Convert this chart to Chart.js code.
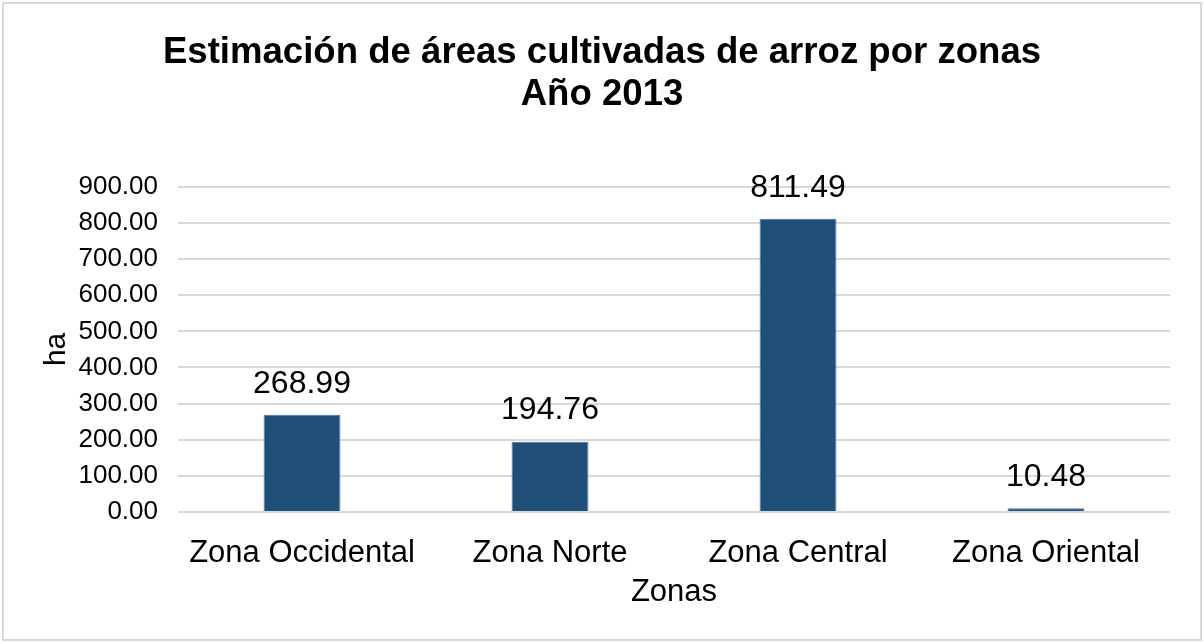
<!DOCTYPE html>
<html>
<head>
<meta charset="utf-8">
<script src="https://cdn.jsdelivr.net/npm/chart.js@4/dist/chart.umd.min.js"></script>
<style>
  html, body { margin: 0; padding: 0; background: #fff; }
  canvas { display: block; }
</style>
</head>
<body>
<canvas id="areasChart" width="1204" height="643"></canvas>
<script>
var zonas = ['Zona Occidental', 'Zona Norte', 'Zona Central', 'Zona Oriental'];
var hectareas = [268.99, 194.76, 811.49, 10.48];
var titulo = ['Estimación de áreas cultivadas de arroz por zonas', 'Año 2013'];
var ejeY = 'ha';
var ejeX = 'Zonas';

var fontFamily = '"Liberation Sans", Arial, sans-serif';

// gray frame around the whole chart
var framePlugin = {
    id: 'frame',
    beforeDraw: function(chart) {
        var ctx = chart.ctx;
        ctx.save();
        ctx.fillStyle = '#ffffff';
        ctx.fillRect(0, 0, chart.width, chart.height);
        ctx.strokeStyle = '#d9d9d9';
        ctx.lineWidth = 2;
        ctx.strokeRect(3, 3, chart.width - 6, chart.height - 6);
        ctx.restore();
    }
};

// value written above each bar
var valueLabels = {
    id: 'valueLabels',
    afterDatasetsDraw: function(chart) {
        var ctx = chart.ctx;
        var meta = chart.getDatasetMeta(0);
        ctx.save();
        ctx.font = '32px ' + fontFamily;
        ctx.fillStyle = '#000000';
        ctx.textAlign = 'center';
        ctx.textBaseline = 'middle';
        meta.data.forEach(function(bar, i) {
            ctx.fillText(hectareas[i].toFixed(2), bar.x, bar.y - 31);
        });
        ctx.restore();
    }
};

new Chart(document.getElementById('areasChart'), {
    type: 'bar',
    data: {
        labels: zonas,
        datasets: [{
            data: hectareas,
            backgroundColor: '#1f4e79',
            borderColor: '#4a7199',
            borderWidth: 1,
            barPercentage: 0.31,
            categoryPercentage: 1
        }]
    },
    options: {
        responsive: false,
        animation: false,
        layout: {
            padding: { left: 34, right: 34, top: 10, bottom: 20 }
        },
        plugins: {
            legend: { display: false },
            tooltip: { enabled: false },
            title: {
                display: true,
                text: titulo,
                color: '#000000',
                font: { family: fontFamily, size: 36.6, weight: 'bold', lineHeight: 1.145 },
                padding: { top: 22, bottom: 71 }
            }
        },
        scales: {
            x: {
                grid: { display: false },
                border: { display: false },
                ticks: {
                    color: '#000000',
                    font: { family: fontFamily, size: 31 },
                    padding: 15,
                    maxRotation: 0
                },
                title: {
                    display: true,
                    text: ejeX,
                    color: '#000000',
                    font: { family: fontFamily, size: 31 },
                    padding: { top: 0, bottom: 12 }
                },
                afterFit: function(scale) { scale.height = 111; }
            },
            y: {
                min: 0,
                max: 900,
                grid: { color: '#d9d9d9', lineWidth: 2, drawTicks: false },
                border: { display: false },
                ticks: {
                    stepSize: 100,
                    color: '#000000',
                    font: { family: fontFamily, size: 26 },
                    padding: 20,
                    callback: function(v) { return v.toFixed(2); }
                },
                title: {
                    display: true,
                    text: ejeY,
                    color: '#000000',
                    font: { family: fontFamily, size: 30 },
                    padding: { top: 5, bottom: 0 }
                },
                afterFit: function(scale) { scale.width = 144; }
            }
        }
    },
    plugins: [framePlugin, valueLabels]
});
</script>
</body>
</html>
